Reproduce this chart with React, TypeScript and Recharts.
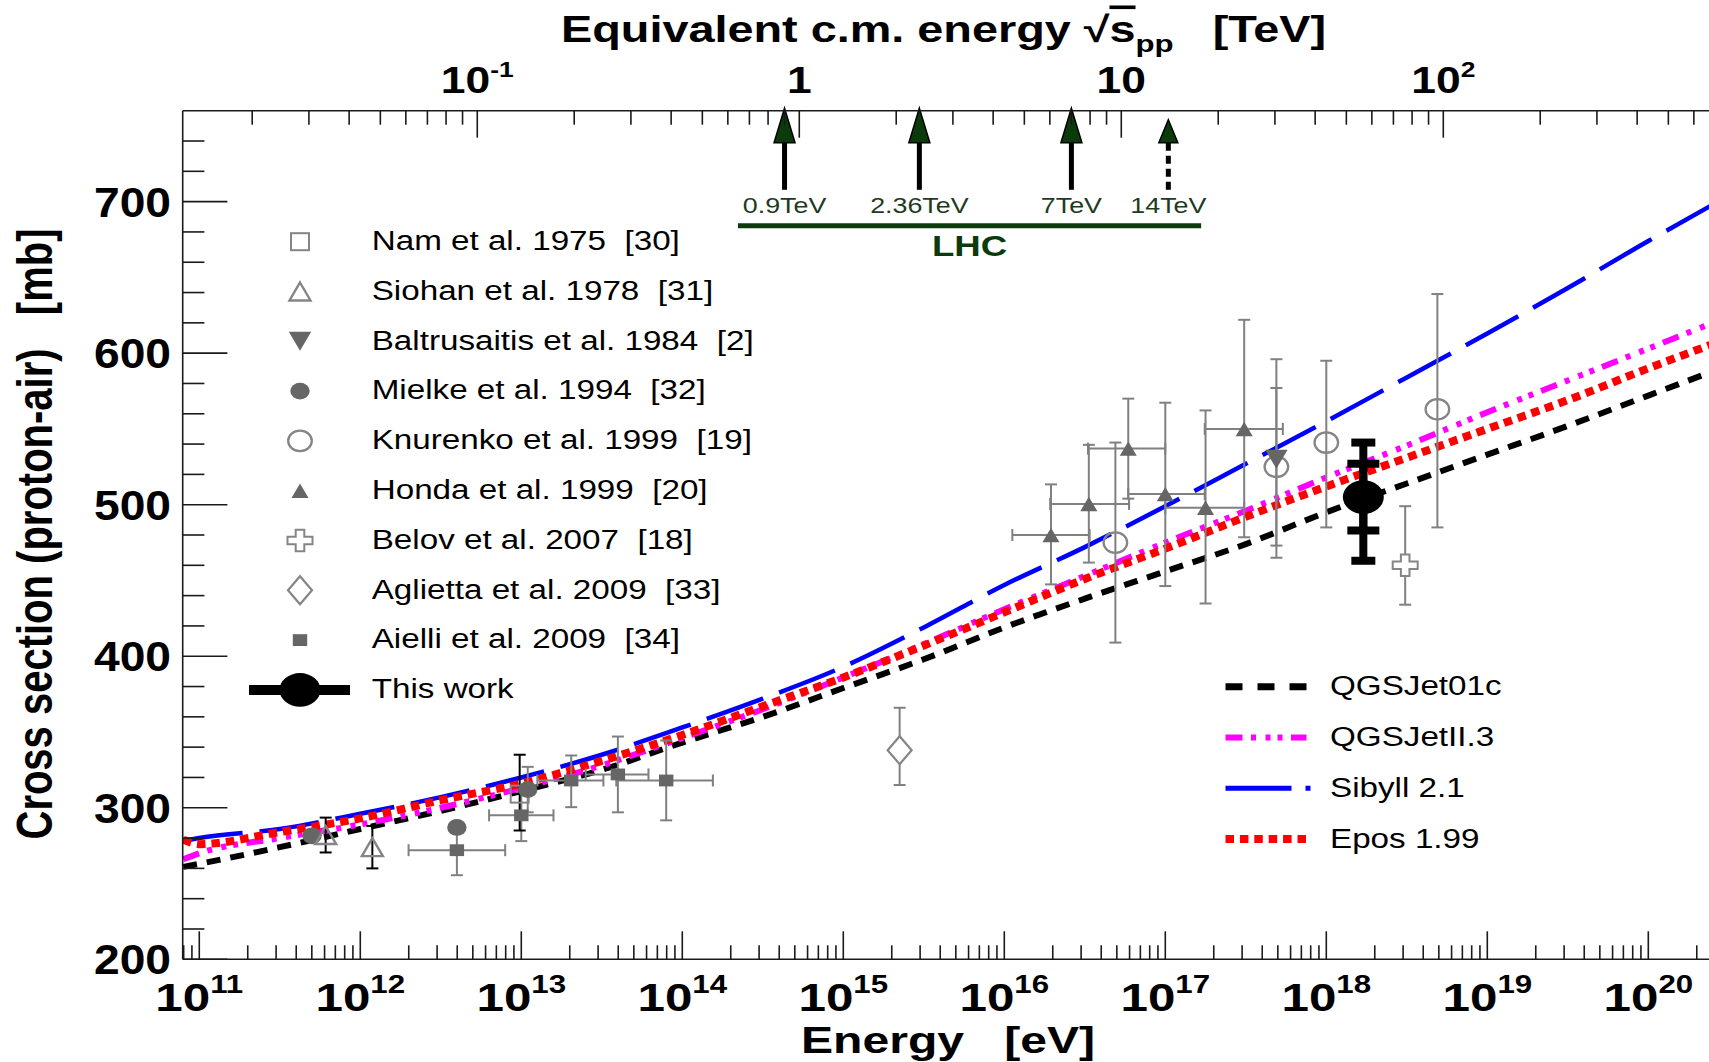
import React from 'react';
import { ComposedChart, Line, Scatter, XAxis, YAxis, ErrorBar, ReferenceLine, Legend } from 'recharts';

// ---------------- layout constants ----------------
const W = 1709;
const H = 1062;
const PLOT_L = 182.7;
const PLOT_T = 110.7;
const PLOT_B = 959.3;
const X_MIN = 10.897; // log10(E/eV)
const X_MAX = 20.377;
const Y_MIN = 200;
const Y_MAX = 760;
const LOG_2MP = Math.log10(2 * 0.938272e9);
const toSqrtS = (logE: number) => (logE + LOG_2MP) / 2 - 12; // log10(sqrt(s_pp)/TeV)

const FONT = '"Liberation Sans", Arial, Helvetica, sans-serif';
const GRAY = '#666666';
const OPEN = '#858585';
const ERR = '#808080';
const GREEN = '#0b3b0b';
const GREEN_TXT = '#1e3b1e';

// ---------------- model curves (log10 E/eV  ->  sigma p-air, mb) ----------------
const energyGrid = [10.9, 11, 11.5, 12, 12.5, 13, 13.5, 14, 14.5, 15, 15.5, 16, 16.5, 17, 17.5, 18, 18.5, 19, 19.5, 20, 20.4];
const qgsjet01c = [261, 263, 274, 286, 298, 311, 325, 343, 360, 379, 398, 419, 438, 456, 474, 495, 514, 533, 552, 572, 588];
const qgsjetII3 = [266, 270, 280, 289, 300, 313, 328, 346, 365, 386, 408, 431, 453, 475, 496, 518, 539, 561, 582, 603, 620];
const sibyll21 = [278, 280, 286, 296, 307, 320, 335, 353, 372, 393, 419, 447, 472, 499, 527, 555, 584, 613, 643, 674, 698];
const epos199 = [279, 276, 284, 293, 305, 316, 331, 348, 367, 386, 407, 429, 451, 471, 492, 512, 531, 550, 569, 590, 606];

const modelRows = energyGrid.map((x, i) => ({
  x,
  qgs01: qgsjet01c[i],
  qgs2: qgsjetII3[i],
  sib: sibyll21[i],
  epos: epos199[i],
}));

// ---------------- measurements ----------------
const nam1975 = [{ x: 12.99, y: 309, ey: [24, 26] }];
const siohan1978 = [
  { x: 11.785, y: 282, ey: [11.5, 11.5] },
  { x: 12.075, y: 274, ey: [14, 14] },
];
const baltrusaitis1984 = [{ x: 17.69, y: 530, ey: [57, 47], ey2: [65, 66] }];
const mielke1994 = [
  { x: 11.7, y: 281.5 },
  { x: 12.6, y: 287 },
  { x: 13.04, y: 312, ey: [15, 15] },
];
const knurenko1999 = [
  { x: 16.69, y: 475, ey: [66, 66] },
  { x: 17.69, y: 525 },
  { x: 18.0, y: 541, ey: [56, 54] },
  { x: 18.69, y: 563, ey: [78, 76] },
];
const honda1999 = [
  { x: 16.29, y: 480, ex: [0.24, 0.24], ey: [32.6, 33.4] },
  { x: 16.525, y: 500.5, ex: [0.24, 0.25], ey: [38.7, 39] },
  { x: 16.77, y: 537, ex: [0.25, 0.23], ey: [33, 33] },
  { x: 17.0, y: 507, ex: [0.23, 0.245], ey: [60.7, 60.3] },
  { x: 17.25, y: 498, ex: [0.25, 0.24], ey: [63.2, 64.2] },
  { x: 17.49, y: 550, ex: [0.245, 0.24], ey: [71.5, 72] },
];
const belov2007 = [{ x: 18.49, y: 460, ey: [26, 39] }];
const aglietta2009 = [{ x: 15.35, y: 338, ey: [23, 28] }];
const aielli2009 = [
  { x: 12.6, y: 272, ex: [0.3, 0.3], ey: [16.5, 16.5] },
  { x: 13.0, y: 295, ex: [0.2, 0.2], ey: [17, 15.5] },
  { x: 13.31, y: 318, ex: [0.21, 0.2], ey: [17.6, 16.5] },
  { x: 13.6, y: 322, ex: [0.2, 0.19], ey: [25, 25] },
  { x: 13.9, y: 318, ex: [0.31, 0.29], ey: [26.3, 26.4] },
];
const thisWork = [{ x: 18.23, y: 505, stat: [22, 22], tot: [42, 36] }];

// LHC energies (TeV)
const lhcEnergies = [0.9, 2.36, 7, 14];
const lhcLabels = ['0.9TeV', '2.36TeV', '7TeV', '14TeV'];
const lhcRange = [0.645, 17.7];

// ---------------- ticks ----------------
const bottomTicks: number[] = [];
for (let n = 10; n <= 20; n++) {
  for (let k = 1; k <= 9; k++) {
    const v = n + Math.log10(k);
    if (v > X_MIN + 1e-6 && v < X_MAX - 1e-6) bottomTicks.push(v);
  }
}
const S_MIN = toSqrtS(X_MIN);
const S_MAX = toSqrtS(X_MAX);
const topTicks: number[] = [];
for (let n = -2; n <= 2; n++) {
  for (let k = 1; k <= 9; k++) {
    const v = n + Math.log10(k);
    if (v > S_MIN + 1e-6 && v < S_MAX - 1e-6) topTicks.push(v);
  }
}
const leftTicks: number[] = [];
for (let v = 200; v < 760; v += 20) leftTicks.push(v);

const isInt = (v: number) => Math.abs(v - Math.round(v)) < 1e-9;

// ---------------- helpers ----------------
function SText(props: any) {
  const { x, y, sx = 1.22, anchor = 'start', size, bold, fill = '#000', children, rotate } = props;
  const tr = `translate(${x} ${y}) scale(${sx} 1)` + (rotate ? ` rotate(${rotate})` : '');
  return (
    <text
      transform={tr}
      x={0}
      y={0}
      textAnchor={anchor}
      fontSize={size}
      fontWeight={bold ? 'bold' : 'normal'}
      fontFamily={FONT}
      fill={fill}
      style={{ whiteSpace: 'pre' }}
      xmlSpace="preserve"
    >
      {children}
    </text>
  );
}

const BottomTick = (props: any) => {
  const { x, payload } = props;
  const v: number = payload.value;
  const major = isInt(v);
  return (
    <g>
      <line x1={x} x2={x} y1={PLOT_B} y2={PLOT_B - (major ? 28 : 14)} stroke="#1a1a1a" strokeWidth={1.6} />
      {major && (
        <SText x={x} y={1010.5} sx={1.25} anchor="middle" size={39.5} bold>
          10<tspan dy={-18} fontSize={25}>{Math.round(v)}</tspan>
        </SText>
      )}
    </g>
  );
};

const topLabel = (v: number) => {
  const n = Math.round(v);
  if (n === 0) return <>1</>;
  if (n === 1) return <>10</>;
  return (
    <>
      10<tspan dy={-16} fontSize={22}>{n}</tspan>
    </>
  );
};

const TopTick = (props: any) => {
  const { x, payload } = props;
  const v: number = payload.value;
  const major = isInt(v);
  return (
    <g>
      <line x1={x} x2={x} y1={PLOT_T} y2={PLOT_T + (major ? 27 : 14)} stroke="#1a1a1a" strokeWidth={1.6} />
      {major && (
        <SText x={x} y={93.3} sx={1.2} anchor="middle" size={37} bold>
          {topLabel(v)}
        </SText>
      )}
    </g>
  );
};

const LeftTick = (props: any) => {
  const { y, payload } = props;
  const v: number = payload.value;
  const major = v % 100 === 0;
  return (
    <g>
      <line x1={PLOT_L} x2={PLOT_L + (major ? 44.7 : 21.7)} y1={y} y2={y} stroke="#1a1a1a" strokeWidth={1.6} />
      {major && (
        <SText x={171} y={y + 15} sx={1.1} anchor="end" size={42} bold>
          {v}
        </SText>
      )}
    </g>
  );
};

const tri = (cx: number, cy: number, hw: number, hh: number, down: boolean) =>
  down
    ? `${cx - hw},${cy - hh} ${cx + hw},${cy - hh} ${cx},${cy + hh}`
    : `${cx},${cy - hh} ${cx + hw},${cy + hh} ${cx - hw},${cy + hh}`;

function Marker({ kind, cx, cy }: { kind: string; cx: number; cy: number }) {
  switch (kind) {
    case 'nam':
      return <rect x={cx - 9} y={cy - 8.5} width={18} height={17} fill="none" stroke={OPEN} strokeWidth={2} />;
    case 'siohan':
      return <polygon points={tri(cx, cy, 10.5, 9, false)} fill="none" stroke={OPEN} strokeWidth={2.4} />;
    case 'baltrusaitis':
      return <polygon points={tri(cx, cy, 11.2, 9.5, true)} fill={GRAY} />;
    case 'mielke':
      return <ellipse cx={cx} cy={cy} rx={9.7} ry={8.4} fill={GRAY} />;
    case 'knurenko':
      return <ellipse cx={cx} cy={cy} rx={11.8} ry={10.2} fill="none" stroke={OPEN} strokeWidth={2.3} />;
    case 'honda':
      return <polygon points={tri(cx, cy, 8.5, 7.2, false)} fill={GRAY} />;
    case 'belov': {
      const a = 12.5, b = 10.8, c = 4.3, d = 3.8;
      const pts = [
        [cx - c, cy - b], [cx + c, cy - b], [cx + c, cy - d], [cx + a, cy - d], [cx + a, cy + d], [cx + c, cy + d],
        [cx + c, cy + b], [cx - c, cy + b], [cx - c, cy + d], [cx - a, cy + d], [cx - a, cy - d], [cx - c, cy - d],
      ].map((p) => p.join(',')).join(' ');
      return <polygon points={pts} fill="#fff" stroke={OPEN} strokeWidth={2} />;
    }
    case 'aglietta':
      return <polygon points={`${cx},${cy - 14} ${cx + 12},${cy} ${cx},${cy + 14} ${cx - 12},${cy}`} fill="#fff" stroke={OPEN} strokeWidth={2.2} />;
    case 'aielli':
      return <rect x={cx - 7.2} y={cy - 5.9} width={14.4} height={11.8} fill={GRAY} />;
    case 'thiswork':
      return <ellipse cx={cx} cy={cy} rx={20.5} ry={16.8} fill="#000" />;
    default:
      return null;
  }
}

const shapeOf = (kind: string) => (p: any) => <Marker kind={kind} cx={p.cx} cy={p.cy} />;

const legendEntries = [
  { kind: 'nam', text: 'Nam et al. 1975  [30]' },
  { kind: 'siohan', text: 'Siohan et al. 1978  [31]' },
  { kind: 'baltrusaitis', text: 'Baltrusaitis et al. 1984  [2]' },
  { kind: 'mielke', text: 'Mielke et al. 1994  [32]' },
  { kind: 'knurenko', text: 'Knurenko et al. 1999  [19]' },
  { kind: 'honda', text: 'Honda et al. 1999  [20]' },
  { kind: 'belov', text: 'Belov et al. 2007  [18]' },
  { kind: 'aglietta', text: 'Aglietta et al. 2009  [33]' },
  { kind: 'aielli', text: 'Aielli et al. 2009  [34]' },
  { kind: 'thiswork', text: 'This work' },
];

const modelLegend = [
  { text: 'QGSJet01c', color: '#000', width: 7, dash: '17 15', len: 81 },
  { text: 'QGSJetII.3', color: '#ff00ff', width: 6, dash: '17 8.5 5 9.5 5 7 5 8.5', len: 81 },
  { text: 'Sibyll 2.1', color: '#0000ff', width: 5, dash: '66 14 5 20', len: 85.5 },
  { text: 'Epos 1.99', color: '#ff0000', width: 8, dash: '8.5 5.9', len: 85.5 },
];

function LegendOverlay() {
  return (
    <svg width={W} height={H} style={{ position: 'absolute', left: 0, top: 0, pointerEvents: 'none' }}>
      {legendEntries.map((e, i) => {
        const cy = 241.7 + i * 49.8;
        return (
          <g key={e.kind}>
            {e.kind === 'thiswork' && <line x1={249} x2={350} y1={cy} y2={cy} stroke="#000" strokeWidth={10} />}
            <Marker kind={e.kind} cx={300} cy={cy} />
            <SText x={371.7} y={cy + 8.2} sx={1.23} size={27}>
              {e.text}
            </SText>
          </g>
        );
      })}
      {modelLegend.map((m, i) => {
        const cy = 686.7 + i * 50.8;
        return (
          <g key={m.text}>
            <line x1={1225.5} x2={1225.5 + m.len} y1={cy} y2={cy} stroke={m.color} strokeWidth={m.width} strokeDasharray={m.dash} />
            <SText x={1330} y={cy + 8.5} sx={1.23} size={27}>
              {m.text}
            </SText>
          </g>
        );
      })}
    </svg>
  );
}

function LhcArrow(props: any) {
  const { x1, y1, y2, label, planned } = props;
  const x = x1;
  const yBottom = Math.max(y1, y2);
  const yTop = Math.min(y1, y2);
  const base = yTop + 32;
  const tip = planned ? yTop + 9 : yTop - 2.5;
  const hw = planned ? 9.5 : 10.5;
  return (
    <g>
      <line x1={x} x2={x} y1={yBottom} y2={base} stroke="#000" strokeWidth={5} strokeDasharray={planned ? '8 5' : undefined} />
      <polygon points={`${x},${tip} ${x + hw},${base} ${x - hw},${base}`} fill={GREEN} stroke="#000" strokeWidth={1.5} />
      <SText x={x} y={yBottom + 22.7} sx={1.22} anchor="middle" size={22} fill={GREEN_TXT}>
        {label}
      </SText>
    </g>
  );
}

function LhcBar(props: any) {
  const { x1, x2, y1 } = props;
  return (
    <g>
      <line x1={x1} x2={x2} y1={y1} y2={y1} stroke={GREEN} strokeWidth={5} />
      <SText x={(x1 + x2) / 2} y={y1 + 30.5} sx={1.22} anchor="middle" size={30} bold fill={GREEN}>
        LHC
      </SText>
    </g>
  );
}

const TopTitle = () => (
  <SText x={561} y={41.7} sx={1.3} size={36} bold>
    Equivalent c.m. energy {'\u221A'}
    <tspan textDecoration="overline">s</tspan>
    <tspan dy={10} fontSize={24}>pp</tspan>
    <tspan dy={-10}>{'   [TeV]'}</tspan>
  </SText>
);

const BottomTitle = () => (
  <SText x={948} y={1052.5} sx={1.3} anchor="middle" size={37} bold>
    {'Energy   [eV]'}
  </SText>
);

const LeftTitle = () => (
  <SText x={52} y={534} sx={1.25} rotate={-90} anchor="middle" size={40} bold>
    {'Cross section (proton-air)   [mb]'}
  </SText>
);

const ARROW_BASE_MB = 707.8;
const LHC_BAR_MB = 684;

export default function App() {
  return (
    <div style={{ position: 'absolute', left: 0, top: 0, width: W, height: H, background: '#fff' }}>
      <ComposedChart
        width={W}
        height={H}
        data={modelRows}
        margin={{ top: PLOT_T - 30, right: 0, bottom: H - PLOT_B - 30, left: PLOT_L - 60 }}
      >
        <XAxis
          xAxisId="bottom"
          orientation="bottom"
          dataKey="x"
          type="number"
          domain={[X_MIN, X_MAX]}
          allowDataOverflow
          ticks={bottomTicks}
          interval={0}
          tick={<BottomTick />}
          tickLine={false}
          tickSize={0}
          tickMargin={0}
          height={30}
          axisLine={{ stroke: '#1a1a1a', strokeWidth: 1.6 }}
          label={<BottomTitle />}
        />
        <XAxis
          xAxisId="top"
          orientation="top"
          dataKey="s"
          type="number"
          domain={[S_MIN, S_MAX]}
          allowDataOverflow
          ticks={topTicks}
          interval={0}
          tick={<TopTick />}
          tickLine={false}
          tickSize={0}
          tickMargin={0}
          height={30}
          axisLine={{ stroke: '#1a1a1a', strokeWidth: 1.6 }}
          label={<TopTitle />}
        />
        <YAxis
          yAxisId="left"
          dataKey="y"
          type="number"
          domain={[Y_MIN, Y_MAX]}
          allowDataOverflow
          ticks={leftTicks}
          interval={0}
          tick={<LeftTick />}
          tickLine={false}
          tickSize={0}
          tickMargin={0}
          width={60}
          axisLine={{ stroke: '#1a1a1a', strokeWidth: 1.6 }}
          label={<LeftTitle />}
        />

        <Line xAxisId="bottom" yAxisId="left" type="monotone" dataKey="sib" stroke="#0000ff" strokeWidth={4.5} strokeDasharray="60 17" dot={false} activeDot={false} isAnimationActive={false} />
        <Line xAxisId="bottom" yAxisId="left" type="monotone" dataKey="qgs01" stroke="#000" strokeWidth={6} strokeDasharray="14 10" dot={false} activeDot={false} isAnimationActive={false} />
        <Line xAxisId="bottom" yAxisId="left" type="monotone" dataKey="qgs2" stroke="#ff00ff" strokeWidth={6} strokeDasharray="17 8.5 5 9.5 5 7 5 8.5" dot={false} activeDot={false} isAnimationActive={false} />
        <Line xAxisId="bottom" yAxisId="left" type="monotone" dataKey="epos" stroke="#ff0000" strokeWidth={8} strokeDasharray="8.5 6" dot={false} activeDot={false} isAnimationActive={false} />

        <Scatter xAxisId="bottom" yAxisId="left" data={aielli2009} shape={shapeOf('aielli')} isAnimationActive={false}>
          <ErrorBar dataKey="ex" direction="x" width={6} stroke={ERR} strokeWidth={2} />
          <ErrorBar dataKey="ey" direction="y" width={6} stroke={ERR} strokeWidth={2} />
        </Scatter>
        <Scatter xAxisId="bottom" yAxisId="left" data={nam1975} shape={shapeOf('nam')} isAnimationActive={false}>
          <ErrorBar dataKey="ey" direction="y" width={6} stroke="#000" strokeWidth={2} />
        </Scatter>
        <Scatter xAxisId="bottom" yAxisId="left" data={mielke1994} shape={shapeOf('mielke')} isAnimationActive={false}>
          <ErrorBar dataKey="ey" direction="y" width={6} stroke={ERR} strokeWidth={2} />
        </Scatter>
        <Scatter xAxisId="bottom" yAxisId="left" data={siohan1978} shape={shapeOf('siohan')} isAnimationActive={false}>
          <ErrorBar dataKey="ey" direction="y" width={6} stroke="#000" strokeWidth={2} />
        </Scatter>
        <Scatter xAxisId="bottom" yAxisId="left" data={aglietta2009} shape={shapeOf('aglietta')} isAnimationActive={false}>
          <ErrorBar dataKey="ey" direction="y" width={6} stroke={ERR} strokeWidth={2} />
        </Scatter>
        <Scatter xAxisId="bottom" yAxisId="left" data={honda1999} shape={shapeOf('honda')} isAnimationActive={false}>
          <ErrorBar dataKey="ex" direction="x" width={6} stroke={ERR} strokeWidth={2} />
          <ErrorBar dataKey="ey" direction="y" width={6} stroke={ERR} strokeWidth={2} />
        </Scatter>
        <Scatter xAxisId="bottom" yAxisId="left" data={knurenko1999} shape={shapeOf('knurenko')} isAnimationActive={false}>
          <ErrorBar dataKey="ey" direction="y" width={6} stroke={ERR} strokeWidth={2} />
        </Scatter>
        <Scatter xAxisId="bottom" yAxisId="left" data={baltrusaitis1984} shape={shapeOf('baltrusaitis')} isAnimationActive={false}>
          <ErrorBar dataKey="ey2" direction="y" width={6} stroke={ERR} strokeWidth={2} />
          <ErrorBar dataKey="ey" direction="y" width={6} stroke={ERR} strokeWidth={2} />
        </Scatter>
        <Scatter xAxisId="bottom" yAxisId="left" data={belov2007} shape={shapeOf('belov')} isAnimationActive={false}>
          <ErrorBar dataKey="ey" direction="y" width={6} stroke={ERR} strokeWidth={2} />
        </Scatter>
        <Scatter xAxisId="bottom" yAxisId="left" data={thisWork} shape={shapeOf('thiswork')} isAnimationActive={false}>
          <ErrorBar dataKey="tot" direction="y" width={12} stroke="#000" strokeWidth={8} />
          <ErrorBar dataKey="stat" direction="y" width={16} stroke="#000" strokeWidth={8} />
        </Scatter>

        {lhcEnergies.map((e, i) => (
          <ReferenceLine
            key={e}
            xAxisId="top"
            yAxisId="left"
            ifOverflow="visible"
            segment={[
              { x: Math.log10(e), y: ARROW_BASE_MB },
              { x: Math.log10(e), y: Y_MAX },
            ]}
            shape={(p: any) => <LhcArrow {...p} label={lhcLabels[i]} planned={i === lhcEnergies.length - 1} />}
          />
        ))}
        <ReferenceLine
          xAxisId="top"
          yAxisId="left"
          ifOverflow="visible"
          segment={[
            { x: Math.log10(lhcRange[0]), y: LHC_BAR_MB },
            { x: Math.log10(lhcRange[1]), y: LHC_BAR_MB },
          ]}
          shape={(p: any) => <LhcBar {...p} />}
        />

        <Legend
          layout="horizontal"
          verticalAlign="middle"
          align="center"
          wrapperStyle={{ left: 0, top: 0, width: W, height: H, pointerEvents: 'none' }}
          content={() => <LegendOverlay />}
        />
      </ComposedChart>
    </div>
  );
}
